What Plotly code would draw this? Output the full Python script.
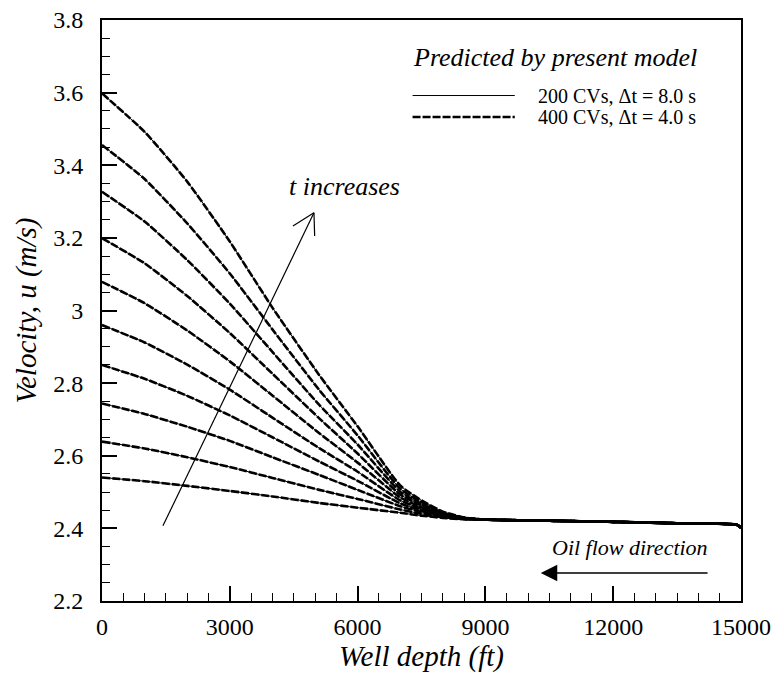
import plotly.graph_objects as go

# Well depth (ft)
depth_ft = [0, 1000, 2000, 3000, 4000, 5100, 6000, 7000, 7500, 8000, 8500, 9000,
            10500, 12000, 13500, 14900, 15000]

# Velocity profiles u (m/s), one per time level (t increases from u_t1 to u_t10)
u_t1 = [2.540, 2.530, 2.517, 2.503, 2.488, 2.470, 2.457, 2.443, 2.435, 2.429, 2.425, 2.424, 2.421, 2.418, 2.414, 2.410, 2.402]
u_t2 = [2.639, 2.620, 2.596, 2.569, 2.539, 2.506, 2.481, 2.452, 2.440, 2.431, 2.426, 2.424, 2.421, 2.418, 2.414, 2.410, 2.402]
u_t3 = [2.744, 2.715, 2.680, 2.641, 2.596, 2.547, 2.506, 2.461, 2.445, 2.433, 2.426, 2.424, 2.421, 2.418, 2.414, 2.410, 2.402]
u_t4 = [2.850, 2.812, 2.765, 2.711, 2.651, 2.584, 2.531, 2.469, 2.449, 2.435, 2.427, 2.424, 2.421, 2.418, 2.414, 2.410, 2.402]
u_t5 = [2.960, 2.912, 2.851, 2.782, 2.705, 2.621, 2.556, 2.477, 2.454, 2.436, 2.427, 2.424, 2.421, 2.418, 2.414, 2.410, 2.402]
u_t6 = [3.079, 3.020, 2.945, 2.860, 2.766, 2.662, 2.581, 2.485, 2.458, 2.438, 2.428, 2.424, 2.421, 2.418, 2.414, 2.410, 2.402]
u_t7 = [3.199, 3.130, 3.040, 2.938, 2.826, 2.703, 2.606, 2.493, 2.463, 2.440, 2.428, 2.424, 2.421, 2.418, 2.414, 2.410, 2.402]
u_t8 = [3.327, 3.245, 3.139, 3.019, 2.886, 2.740, 2.631, 2.501, 2.467, 2.442, 2.429, 2.424, 2.421, 2.418, 2.414, 2.410, 2.402]
u_t9 = [3.456, 3.362, 3.240, 3.102, 2.948, 2.781, 2.656, 2.509, 2.472, 2.444, 2.429, 2.424, 2.421, 2.418, 2.414, 2.410, 2.402]
u_t10 = [3.598, 3.492, 3.355, 3.190, 3.008, 2.822, 2.681, 2.518, 2.477, 2.446, 2.430, 2.424, 2.421, 2.418, 2.414, 2.410, 2.402]

profiles = [u_t1, u_t2, u_t3, u_t4, u_t5, u_t6, u_t7, u_t8, u_t9, u_t10]

x_tick_vals = [0, 3000, 6000, 9000, 12000, 15000]
x_tick_text = ["0", "3000", "6000", "9000", "12000", "15000"]

legend_title = "Predicted by present model"
legend_labels = ["200 CVs, \u0394t = 8.0 s", "400 CVs, \u0394t = 4.0 s"]

# Annotation arrow positions (data coords)
t_arrow_tail = (1430, 2.407)
t_arrow_head = (4975, 3.269)
t_arrow_arm1 = (4482, 3.233)
t_arrow_arm2 = (4992, 3.205)
oil_arrow_tail = (14250, 2.277)
oil_arrow_head = (10300, 2.277)

FONT = "Liberation Serif"

fig = go.Figure()
for u in profiles:
    fig.add_trace(go.Scatter(x=depth_ft, y=u, mode="lines", showlegend=False,
                             line=dict(color="black", width=1, shape="spline", smoothing=0.5)))
for u in profiles:
    fig.add_trace(go.Scatter(x=depth_ft, y=u, mode="lines", showlegend=False,
                             line=dict(color="black", width=2.6, dash="8px,2px",
                                       shape="spline", smoothing=0.5)))

axis_common = dict(
    showgrid=False, zeroline=False, showline=True, linecolor="black", linewidth=2,
    mirror=True, ticks="inside", ticklen=15, tickwidth=1.5, tickcolor="black",
    tickfont=dict(family=FONT, size=24, color="black"), automargin=False,
)

fig.update_xaxes(range=[0, 15000], tickvals=x_tick_vals, ticktext=x_tick_text,
                 minor=dict(ticks="inside", ticklen=8, dtick=500, tick0=0, tickwidth=1.2, tickcolor="black"),
                 title=dict(text="<i>Well depth (ft)</i>", font=dict(family=FONT, size=29, color="black"),
                            standoff=0),
                 ticklabelstandoff=3,
                 **axis_common)
fig.update_yaxes(range=[2.2, 3.8], tick0=2.2, dtick=0.2,
                 minor=dict(ticks="inside", ticklen=8, dtick=0.05, tick0=2.2, tickwidth=1.2, tickcolor="black"),
                 title=dict(text="<i>Velocity, u (m/s)</i>", font=dict(family=FONT, size=29, color="black"),
                            standoff=8),
                 ticklabelstandoff=12,
                 **axis_common)

# Manual legend (paper coordinates)
fig.add_annotation(xref="paper", yref="paper", x=0.483, y=0.935, xanchor="left", yanchor="middle",
                   text="<i>" + legend_title + "</i>", showarrow=False,
                   font=dict(family=FONT, size=26, color="black"))
leg_y = [0.870, 0.833]
styles = [dict(color="black", width=1), dict(color="black", width=2.6, dash="8px,2px")]
for yy, lab, st in zip(leg_y, legend_labels, styles):
    fig.add_shape(type="line", xref="paper", yref="paper", x0=0.486, x1=0.646, y0=yy, y1=yy, line=st)
    fig.add_annotation(xref="paper", yref="paper", x=0.68, y=yy, xanchor="left", yanchor="middle",
                       text=lab, showarrow=False, font=dict(family=FONT, size=20, color="black"),
                       borderpad=0)

# t increases arrow (line + open V head)
fig.add_shape(type="line", xref="x", yref="y", x0=t_arrow_tail[0], y0=t_arrow_tail[1],
              x1=t_arrow_head[0], y1=t_arrow_head[1], line=dict(color="black", width=1.2))
for arm in (t_arrow_arm1, t_arrow_arm2):
    fig.add_shape(type="line", xref="x", yref="y", x0=arm[0], y0=arm[1],
                  x1=t_arrow_head[0], y1=t_arrow_head[1], line=dict(color="black", width=1.2))
fig.add_annotation(x=5690, y=3.342, xref="x", yref="y", text="<i>t increases</i>", showarrow=False,
                   font=dict(family=FONT, size=26, color="black"))

# Oil flow direction arrow
fig.add_annotation(x=oil_arrow_head[0], y=oil_arrow_head[1], ax=oil_arrow_tail[0], ay=oil_arrow_tail[1],
                   xref="x", yref="y", axref="x", ayref="y", text="", showarrow=True,
                   arrowhead=2, arrowsize=2.2, arrowwidth=1.5, arrowcolor="black")
fig.add_annotation(x=12400, y=2.346, xref="x", yref="y", text="<i>Oil flow direction</i>", showarrow=False,
                   font=dict(family=FONT, size=22, color="black"))

fig.update_layout(
    width=777, height=675,
    margin=dict(l=102, r=36, t=20, b=74),
    paper_bgcolor="white", plot_bgcolor="white",
    font=dict(family=FONT, color="black"),
    showlegend=False,
)

fig.write_html("out.html", config={"displayModeBar": False},
               post_script="document.body.style.margin='0';")
